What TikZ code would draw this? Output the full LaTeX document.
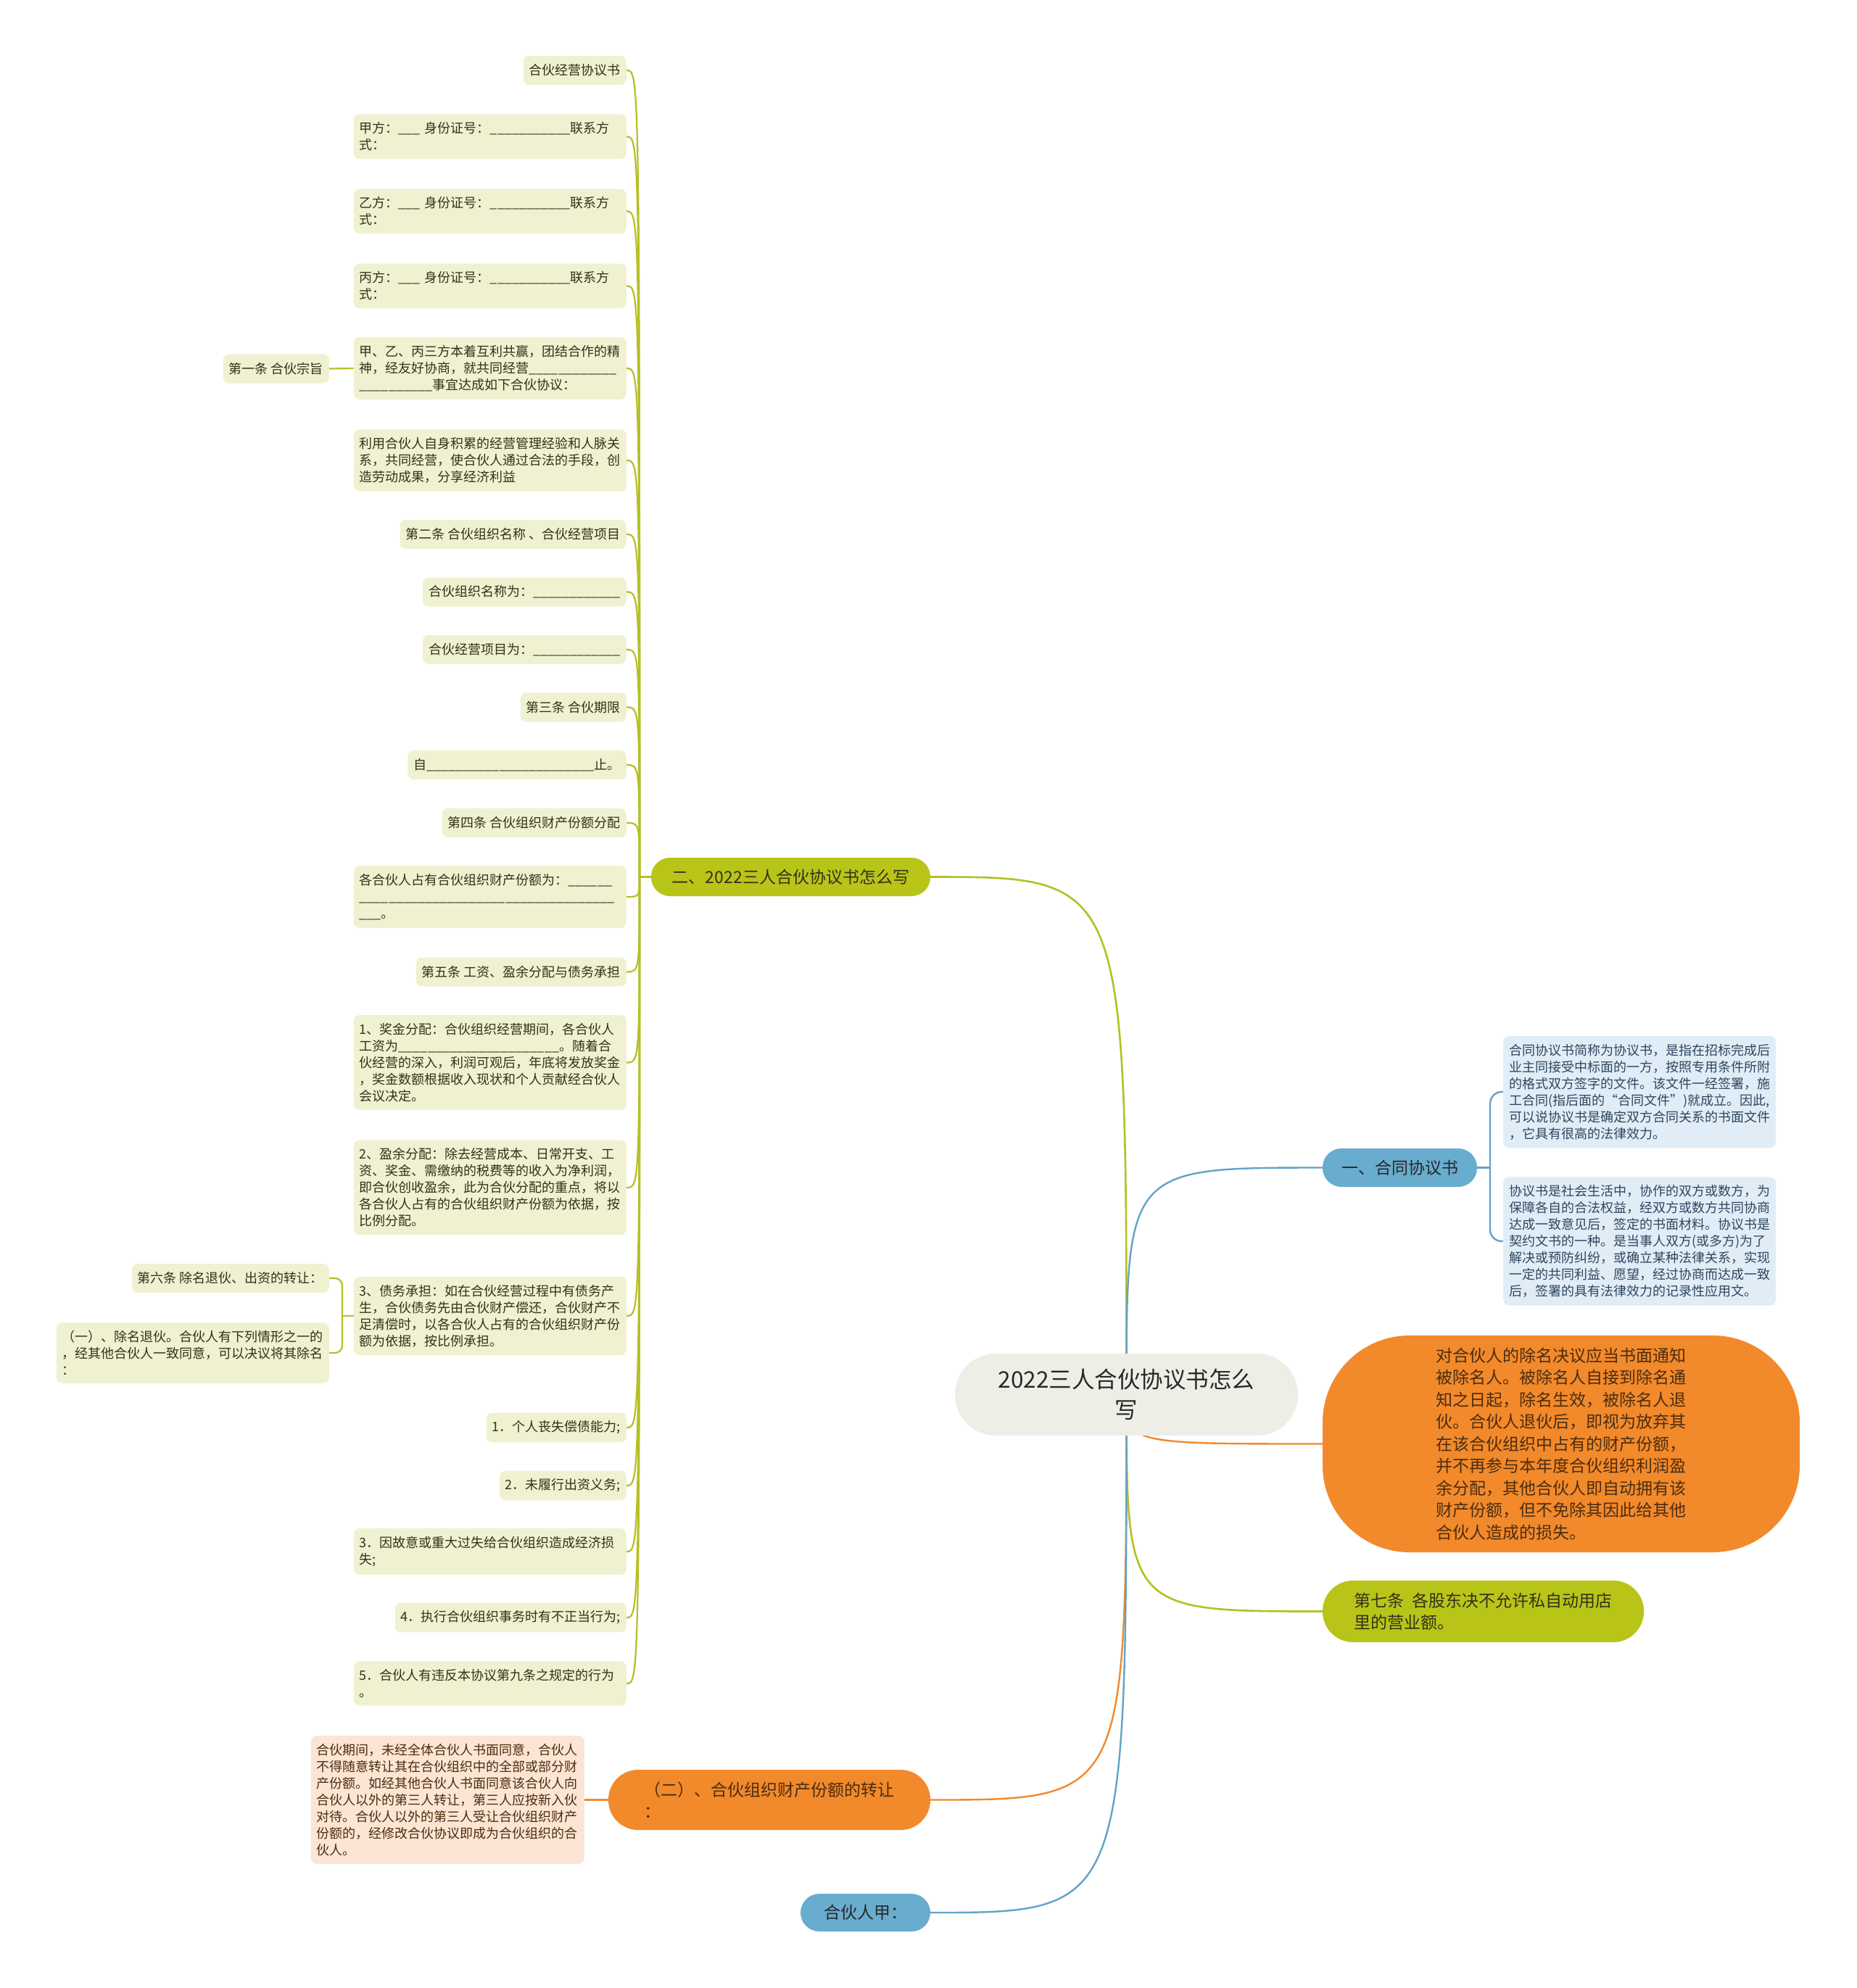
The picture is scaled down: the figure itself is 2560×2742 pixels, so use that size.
\documentclass[tikz,border=0pt]{standalone}
\usepackage{fontspec}
\setmainfont{Noto Sans CJK SC}
\definecolor{mmgreen}{RGB}{185,196,24}
\definecolor{mmgreenline}{RGB}{180,192,35}
\definecolor{mmblue}{RGB}{104,172,206}
\definecolor{mmblueline}{RGB}{98,163,199}
\definecolor{mmorange}{RGB}{242,137,43}
\definecolor{mmleaf}{RGB}{239,241,208}
\definecolor{mmsky}{RGB}{224,237,246}
\definecolor{mmpeach}{RGB}{252,229,212}
\definecolor{mmroot}{RGB}{238,238,230}
\definecolor{mmtext}{RGB}{40,40,40}
\definecolor{mmdark}{RGB}{50,50,25}
\definecolor{mmslate}{RGB}{45,70,95}
\definecolor{mmbrown}{RGB}{75,45,15}
\newcommand\rootsize{\fontsize{31.5}{41.7}\selectfont}
\newcommand\mainsize{\fontsize{23}{30.5}\selectfont}
\newcommand\leafsize{\fontsize{18}{23}\selectfont}
\newcommand\blanks[1]{\foreach\k in {1,...,#1}{\_}}
\pgfdeclarelayer{bg}
\pgfsetlayers{bg,main}
\tikzset{
  rootnode/.style={fill=mmroot, rounded corners=56pt, minimum width=473pt,
    minimum height=113pt, align=center, font=\rootsize, text=mmtext, inner sep=0pt},
  branchnode/.style={rounded corners=26pt, align=center, font=\mainsize, inner sep=0pt},
  leafnode/.style={fill=mmleaf, rounded corners=8pt, font=\leafsize, text=mmdark,
    align=left, inner xsep=8pt, inner ysep=11pt, minimum height=40pt},
  widebox/.style={text width=360pt},
  notebox/.style={rounded corners=8pt, font=\leafsize, align=left,
    inner xsep=8pt, inner ysep=11pt},
  linkgreen/.style={draw=mmgreenline, line width=2.6pt},
  linkblue/.style={draw=mmblueline, line width=2.4pt},
  linkorange/.style={draw=mmorange, line width=2.4pt},
  leaflink/.style={draw=mmgreenline, line width=2.2pt},
}
\begin{document}
\begin{tikzpicture}[x=1pt,y=-1pt]

\begin{pgfonlayer}{bg}
\fill[white] (0,0) rectangle (2560,2742);
\end{pgfonlayer}

% --- Root ---
\node[rootnode] (root) at (1553.5,1923.5) {2022三人合伙协议书怎么\\写};

% --- Branch 2: how to write ---
\node[branchnode, fill=mmgreen, text=mmdark, minimum width=385pt, minimum height=53pt]
  (br2) at (1090.5,1209.5) {二、2022三人合伙协议书怎么写};
\coordinate (hubL) at (882,1209.5);

\node[leafnode, anchor=east] (n1) at (864,97) {合伙经营协议书};
\node[leafnode, widebox, anchor=east] (n2) at (864,188.5)
  {甲方：\blanks{3} 身份证号：\blanks{11}联系方\\式：};
\node[leafnode, widebox, anchor=east] (n3) at (864,291.5)
  {乙方：\blanks{3} 身份证号：\blanks{11}联系方\\式：};
\node[leafnode, widebox, anchor=east] (n4) at (864,394.5)
  {丙方：\blanks{3} 身份证号：\blanks{11}联系方\\式：};
\node[leafnode, widebox, anchor=east] (n5) at (864,508)
  {甲、乙、丙三方本着互利共赢，团结合作的精\\神，经友好协商，就共同经营\blanks{12}\\\blanks{10}事宜达成如下合伙协议：};
\node[leafnode, anchor=east] (n0) at (454,508.5) {第一条 合伙宗旨};
\node[leafnode, widebox, anchor=east] (n6) at (864,635)
  {利用合伙人自身积累的经营管理经验和人脉关\\系，共同经营，使合伙人通过合法的手段，创\\造劳动成果，分享经济利益};
\node[leafnode, anchor=east] (n7) at (864,737) {第二条 合伙组织名称 、合伙经营项目};
\node[leafnode, anchor=east] (n8) at (864,816.5) {合伙组织名称为：\blanks{12}};
\node[leafnode, anchor=east] (n9) at (864,896) {合伙经营项目为：\blanks{12}};
\node[leafnode, anchor=east] (n10) at (864,975.5) {第三条 合伙期限};
\node[leafnode, anchor=east] (n11) at (864,1055) {自\blanks{23}止。};
\node[leafnode, anchor=east] (n12) at (864,1135) {第四条 合伙组织财产份额分配};
\node[leafnode, widebox, anchor=east] (n13) at (864,1237)
  {各合伙人占有合伙组织财产份额为：\blanks{6}\\\blanks{35}\\\blanks{3}。};
\node[leafnode, anchor=east] (n14) at (864,1340.5) {第五条 工资、盈余分配与债务承担};
\node[leafnode, widebox, anchor=east] (n15) at (864,1465.5)
  {1、奖金分配：合伙组织经营期间，各合伙人\\工资为\blanks{22}。随着合\\伙经营的深入，利润可观后，年底将发放奖金\\，奖金数额根据收入现状和个人贡献经合伙人\\会议决定。};
\node[leafnode, widebox, anchor=east] (n16) at (864,1638)
  {2、盈余分配：除去经营成本、日常开支、工\\资、奖金、需缴纳的税费等的收入为净利润，\\即合伙创收盈余，此为合伙分配的重点，将以\\各合伙人占有的合伙组织财产份额为依据，按\\比例分配。};
\node[leafnode, widebox, anchor=east] (n17) at (864,1815)
  {3、债务承担：如在合伙经营过程中有债务产\\生，合伙债务先由合伙财产偿还，合伙财产不\\足清偿时，以各合伙人占有的合伙组织财产份\\额为依据，按比例承担。};
\coordinate (hub6) at (472,1815);
\node[leafnode, anchor=east] (n18) at (454,1763) {第六条 除名退伙、出资的转让：};
\node[leafnode, widebox, anchor=east] (n19) at (454,1866)
  {（一）、除名退伙。合伙人有下列情形之一的\\，经其他合伙人一致同意，可以决议将其除名\\：};
\node[leafnode, anchor=east] (n20) at (864,1969) {1．个人丧失偿债能力;};
\node[leafnode, anchor=east] (n21) at (864,2049) {2．未履行出资义务;};
\node[leafnode, widebox, anchor=east] (n22) at (864,2140)
  {3．因故意或重大过失给合伙组织造成经济损\\失;};
\node[leafnode, anchor=east] (n23) at (864,2231) {4．执行合伙组织事务时有不正当行为;};
\node[leafnode, widebox, anchor=east] (n24) at (864,2322)
  {5．合伙人有违反本协议第九条之规定的行为\\。};

% --- Branch 1: contract ---
\node[branchnode, fill=mmblue, text=mmtext, minimum width=213pt, minimum height=53pt]
  (br1) at (1930.5,1610.5) {一、合同协议书};
\coordinate (hubR) at (2055,1610.5);
\node[notebox, fill=mmsky, text=mmslate, widebox, anchor=west] (t1) at (2073,1506)
  {合同协议书简称为协议书，是指在招标完成后\\业主同接受中标面的一方，按照专用条件所附\\的格式双方签字的文件。该文件一经签署，施\\工合同(指后面的“合同文件”)就成立。因此,\\可以说协议书是确定双方合同关系的书面文件\\，它具有很高的法律效力。};
\node[notebox, fill=mmsky, text=mmslate, widebox, anchor=west] (t2) at (2073,1712)
  {协议书是社会生活中，协作的双方或数方，为\\保障各自的合法权益，经双方或数方共同协商\\达成一致意见后，签定的书面材料。协议书是\\契约文书的一种。是当事人双方(或多方)为了\\解决或预防纠纷，或确立某种法律关系，实现\\一定的共同利益、愿望，经过协商而达成一致\\后，签署的具有法律效力的记录性应用文。};

% --- Removal notice ---
\node[branchnode, fill=mmorange, text=mmbrown, rounded corners=120pt, align=left,
  minimum width=658pt, minimum height=299pt] (br3) at (2153,1991.5)
  {对合伙人的除名决议应当书面通知\\被除名人。被除名人自接到除名通\\知之日起，除名生效，被除名人退\\伙。合伙人退伙后，即视为放弃其\\在该合伙组织中占有的财产份额，\\并不再参与本年度合伙组织利润盈\\余分配，其他合伙人即自动拥有该\\财产份额，但不免除其因此给其他\\合伙人造成的损失。};

% --- Article 7 ---
\node[branchnode, fill=mmgreen, text=mmdark, rounded corners=42pt, align=left,
  minimum width=443pt, minimum height=85pt] (br4) at (2045.5,2222.5)
  {第七条\ \ 各股东决不允许私自动用店\\里的营业额。};

% --- Transfer of shares ---
\node[branchnode, fill=mmorange, text=mmbrown, rounded corners=41pt, align=left,
  minimum width=444pt, minimum height=83pt] (br5) at (1061,2482.5)
  {（二）、合伙组织财产份额的转让\\：};
\node[notebox, fill=mmpeach, text=mmbrown, text width=361pt, anchor=east] (p1) at (806,2482.5)
  {合伙期间，未经全体合伙人书面同意，合伙人\\不得随意转让其在合伙组织中的全部或部分财\\产份额。如经其他合伙人书面同意该合伙人向\\合伙人以外的第三人转让，第三人应按新入伙\\对待。合伙人以外的第三人受让合伙组织财产\\份额的，经修改合伙协议即成为合伙组织的合\\伙人。};

% --- Partner A ---
\node[branchnode, fill=mmblue, text=mmtext, minimum width=179pt, minimum height=52pt]
  (br6) at (1193.5,2638) {合伙人甲：};

% --- Connectors ---
\begin{pgfonlayer}{bg}
\draw[linkgreen] (root.center) .. controls (root.center |- br2.east) .. (br2.east);
\draw[linkblue] (root.center) .. controls (root.center |- br1.west) .. (br1.west);
\draw[linkorange] (root.center) .. controls (root.center |- br3.west) .. (br3.west);
\draw[linkgreen] (root.center) .. controls (root.center |- br4.west) .. (br4.west);
\draw[linkorange] (root.center) .. controls (root.center |- br5.east) .. (br5.east);
\draw[linkblue] (root.center) .. controls (root.center |- br6.east) .. (br6.east);

% leaves of branch 2
\draw[leaflink] (br2.west) -- (hubL);
\foreach \leaf in {n1,n2,n3,n4,n5,n6,n7,n8,n9,n10,n11,n12,n13,n14,n15,n16,n17,n20,n21,n22,n23,n24}
  \draw[leaflink] (hubL) .. controls (hubL |- \leaf.east) .. (\leaf.east);
\draw[leaflink] (n5.west) -- (n0.east);
\draw[leaflink] (n17.west) -- (hub6);
\draw[leaflink, rounded corners=10pt] (hub6) |- (n18.east);
\draw[leaflink, rounded corners=10pt] (hub6) |- (n19.east);

% notes of branch 1
\draw[linkblue] (br1.east) -- (hubR);
\draw[linkblue, rounded corners=16pt] (hubR) |- (t1.west);
\draw[linkblue, rounded corners=16pt] (hubR) |- (t2.west);

% note of transfer
\draw[linkorange] (br5.west) -- (p1.east);
\end{pgfonlayer}

\end{tikzpicture}
\end{document}
